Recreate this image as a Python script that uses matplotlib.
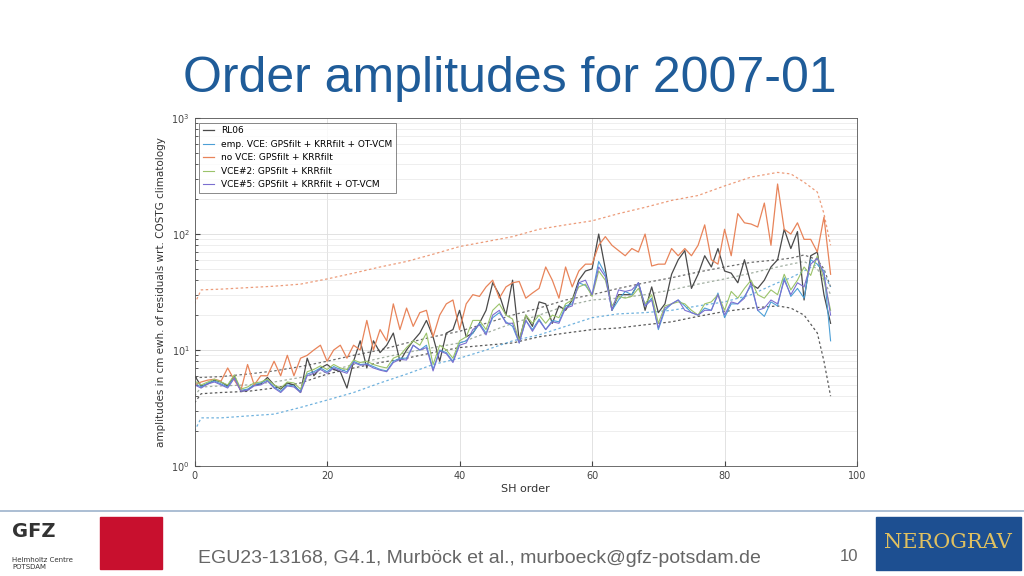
import numpy as np
import matplotlib
matplotlib.use('Agg')
import matplotlib.pyplot as plt
from matplotlib.patches import Rectangle

# SH order 0..96
orders = list(range(97))

rl06 = [6.0, 4.9, 5.1, 5.5, 5.3, 4.9, 6.0, 4.4, 4.5, 5.0, 5.1, 5.8, 5.0, 4.6, 5.2, 5.0, 4.3, 8.5, 6.0, 7.0, 7.5, 6.8, 6.5, 4.7, 8.0,
        12.0, 7.0, 12.0, 9.5, 11.0, 14.0, 8.0, 10.0, 12.0, 14.0, 18.0, 13.0, 8.0, 14.0, 15.0, 22.0, 13.0, 14.0, 17.0, 22.0, 38.0,
        30.0, 20.0, 40.0, 12.0, 20.0, 16.0, 26.0, 25.0, 17.0, 24.0, 22.0, 27.0, 40.0, 48.0, 50.0, 100.0, 50.0, 22.0, 30.0, 30.0,
        30.0, 38.0, 22.0, 35.0, 21.0, 25.0, 45.0, 60.0, 72.0, 34.0, 45.0, 65.0, 52.0, 75.0, 48.0, 46.0, 38.0, 60.0, 37.0, 34.0,
        40.0, 52.0, 60.0, 110.0, 75.0, 105.0, 27.0, 65.0, 70.0, 30.0, 17.0]
no_vce = [5.0, 5.3, 5.5, 5.6, 5.4, 7.0, 5.5, 4.5, 7.5, 5.0, 6.0, 6.0, 8.0, 6.0, 9.0, 6.0, 8.5, 9.0, 10.0, 11.0, 8.0, 10.0, 11.0,
          8.5, 11.0, 10.0, 18.0, 10.0, 15.0, 12.0, 25.0, 15.0, 23.0, 16.0, 21.0, 22.0, 13.0, 20.0, 25.0, 27.0, 15.0, 25.0, 30.0,
          29.0, 35.0, 40.0, 28.0, 35.0, 38.0, 39.0, 28.0, 31.0, 34.0, 52.0, 40.0, 28.0, 52.0, 35.0, 48.0, 55.0, 55.0, 80.0, 95.0,
          80.0, 72.0, 65.0, 75.0, 70.0, 100.0, 53.0, 55.0, 55.0, 75.0, 65.0, 75.0, 65.0, 80.0, 120.0, 60.0, 55.0, 110.0, 65.0,
          150.0, 125.0, 122.0, 115.0, 185.0, 80.0, 270.0, 110.0, 100.0, 125.0, 90.0, 90.0, 70.0, 140.0, 45.0]
emp_vce = [5.2, 4.8, 5.2, 5.4, 5.1, 4.8, 5.8, 4.5, 4.6, 5.0, 5.2, 5.5, 4.8, 4.4, 5.0, 4.9, 4.4, 6.2, 6.5, 7.0, 6.5, 7.2, 6.8, 6.5,
           8.0, 7.5, 7.6, 7.2, 6.8, 6.6, 8.0, 8.5, 8.5, 11.0, 10.0, 11.0, 6.8, 10.0, 9.5, 8.0, 11.5, 12.0, 14.0, 17.0, 14.0, 19.0,
           21.0, 17.5, 16.0, 11.5, 18.0, 15.0, 18.5, 15.0, 18.0, 17.5, 24.0, 25.0, 38.0, 36.0, 30.0, 58.0, 45.0, 22.0, 27.0, 32.0,
           30.0, 38.0, 24.0, 28.0, 15.0, 22.0, 25.0, 27.0, 24.0, 21.0, 20.0, 23.0, 22.0, 31.0, 19.0, 25.0, 25.0, 29.0, 36.0, 22.0,
           19.5, 26.0, 24.0, 42.0, 29.0, 34.0, 28.0, 60.0, 55.0, 48.0, 12.0]
vce2 = [5.4, 5.0, 5.3, 5.6, 5.3, 5.0, 6.1, 4.6, 4.8, 5.2, 5.3, 5.6, 5.0, 4.7, 5.3, 5.2, 4.6, 6.5, 6.8, 7.3, 6.8, 7.5, 7.0, 6.8,
        8.2, 7.8, 8.0, 7.5, 7.2, 7.0, 8.5, 9.0, 10.5, 12.0, 11.0, 14.0, 7.5, 11.0, 10.0, 8.5, 12.0, 13.0, 18.0, 18.0, 15.0, 22.0,
        25.0, 20.0, 18.5, 12.0, 20.0, 17.0, 20.0, 17.0, 20.0, 19.0, 25.0, 27.0, 35.0, 37.0, 29.0, 48.0, 40.0, 24.0, 29.0, 28.0,
        29.0, 34.0, 25.0, 30.0, 17.0, 24.0, 25.0, 26.0, 25.0, 22.0, 20.0, 25.0, 26.0, 30.0, 22.0, 32.0, 28.0, 34.0, 40.0, 30.0,
        28.0, 33.0, 30.0, 45.0, 33.0, 40.0, 52.0, 44.0, 65.0, 40.0, 22.0]
vce5 = [5.0, 4.7, 5.1, 5.3, 5.0, 4.7, 5.7, 4.4, 4.5, 4.9, 5.0, 5.4, 4.7, 4.3, 4.9, 4.8, 4.3, 6.0, 6.3, 6.8, 6.3, 7.0, 6.6, 6.3,
        7.8, 7.4, 7.5, 7.0, 6.7, 6.5, 7.8, 8.3, 8.2, 11.0, 10.0, 10.5, 6.6, 9.8, 9.3, 7.8, 11.0, 11.5, 15.0, 16.5, 13.5, 20.0,
        22.0, 17.0, 17.0, 11.5, 18.0, 14.5, 18.0, 15.0, 17.5, 17.0, 23.0, 24.0, 38.0, 40.0, 30.0, 52.0, 43.0, 22.0, 33.0, 32.0,
        33.0, 38.0, 24.0, 27.0, 15.5, 23.0, 25.0, 27.0, 22.0, 21.0, 20.0, 22.0, 22.0, 30.0, 20.0, 26.0, 25.0, 28.0, 38.0, 22.0,
        23.0, 27.0, 25.0, 40.0, 30.0, 38.0, 35.0, 55.0, 62.0, 45.0, 20.0]

# dashed curves, read at sparse orders
d_orders = [0, 1, 4, 8, 12, 16, 20, 24, 28, 32, 36, 40, 44, 48, 52, 56, 60, 64, 68, 72, 76, 80, 84, 88, 90, 92, 94, 95, 96]
d_novce = [25, 33, 33.5, 34.5, 35.5, 37, 41, 46, 52, 58, 67, 78, 86, 95, 110, 120, 130, 150, 170, 195, 215, 260, 310, 340, 330, 280, 230, 150, 80]
d_rl06_hi = [5.8, 5.8, 5.9, 6.2, 6.6, 7.2, 8.0, 9.0, 10.0, 11.5, 13.0, 14.5, 17.0, 20.0, 23.0, 27.0, 30.0, 34.0, 38.0, 42.0, 47.0, 52.0, 57.0, 60.0, 62.0, 66.0, 60.0, 50.0, 35.0]
d_rl06_lo = [3.5, 4.2, 4.3, 4.4, 4.7, 5.2, 6.2, 7.0, 7.8, 8.5, 9.5, 10.5, 11.0, 11.5, 13.0, 14.0, 15.0, 15.5, 16.5, 17.5, 19.5, 21.5, 23.0, 24.0, 23.0, 20.0, 14.0, 8.0, 4.0]
d_emp = [2.0, 2.6, 2.6, 2.7, 2.8, 3.2, 3.7, 4.3, 5.2, 6.2, 7.5, 8.5, 10.0, 12.0, 13.5, 16.0, 19.0, 20.5, 21.0, 22.0, 24.0, 26.0, 30.0, 38.0, 42.0, 48.0, 55.0, 45.0, 35.0]
d_vce2 = [4.0, 4.8, 4.9, 5.0, 5.3, 5.8, 6.5, 7.5, 8.5, 9.5, 10.5, 11.5, 14.0, 17.0, 20.0, 24.0, 27.0, 28.0, 30.0, 33.0, 37.0, 41.0, 46.0, 52.0, 55.0, 58.0, 50.0, 40.0, 30.0]

xticks = [0, 20, 40, 60, 80, 100]

C_RL06 = '#4a4a4a'
C_EMP = '#4c9fd6'
C_NOVCE = '#e8845a'
C_VCE2 = '#9bc36a'
C_VCE5 = '#7b6fd0'

fig = plt.figure(figsize=(10.24, 5.76), dpi=100)
fig.patch.set_facecolor('white')

fig.text(0.498, 0.862, 'Order amplitudes for 2007-01', ha='center', va='center',
         fontsize=36, color='#1f5c99', family='Liberation Sans')

ax = fig.add_axes([0.190, 0.191, 0.647, 0.604])
ax.set_yscale('log')
ax.plot(d_orders, d_novce, ls=(0, (2, 2)), color=C_NOVCE, lw=0.9, alpha=0.8)
ax.plot(d_orders, d_rl06_hi, ls=(0, (2, 2)), color=C_RL06, lw=0.9, alpha=0.8)
ax.plot(d_orders, d_rl06_lo, ls=(0, (2, 2)), color=C_RL06, lw=0.9, alpha=0.9)
ax.plot(d_orders, d_emp, ls=(0, (2, 2)), color=C_EMP, lw=0.9, alpha=0.8)
ax.plot(d_orders, d_vce2, ls=(0, (2, 2)), color='#8a9a8a', lw=0.9, alpha=0.8)

ax.plot(orders, rl06, color=C_RL06, lw=0.9, label='RL06')
ax.plot(orders, emp_vce, color=C_EMP, lw=0.8, label='emp. VCE: GPSfilt + KRRfilt + OT-VCM')
ax.plot(orders, no_vce, color=C_NOVCE, lw=0.9, label='no VCE: GPSfilt + KRRfilt')
ax.plot(orders, vce2, color=C_VCE2, lw=0.8, label='VCE#2: GPSfilt + KRRfilt')
ax.plot(orders, vce5, color=C_VCE5, lw=0.8, label='VCE#5: GPSfilt + KRRfilt + OT-VCM')

ax.set_xlim(0, 100)
ax.set_ylim(1, 1000)
ax.set_xticks(xticks)
ax.grid(True, which='major', color='#dddddd', lw=0.6)
ax.grid(True, which='minor', axis='y', color='#e8e8e8', lw=0.5)
ax.tick_params(labelsize=7, colors='#444444', direction='in', which='both')
for s in ax.spines.values():
    s.set_color('#555555'); s.set_linewidth(0.6)
ax.set_xlabel('SH order', fontsize=8, color='#333333', labelpad=2)
ax.set_ylabel('amplitudes in cm ewh. of residuals wrt. COSTG climatology', fontsize=7.5, color='#333333')
leg = ax.legend(loc='upper left', fontsize=6.5, frameon=True, fancybox=False, handlelength=1.2,
                borderpad=0.4, labelspacing=0.5, edgecolor='#555555')
leg.get_frame().set_linewidth(0.6)

# footer
fig.add_artist(plt.Line2D([0, 1], [0.113, 0.113], color='#9db3cc', lw=1.2))
fig.text(0.193, 0.031, 'EGU23-13168, G4.1, Murböck et al., murboeck@gfz-potsdam.de', fontsize=14,
         color='#666666', va='center', family='Liberation Sans')
fig.text(0.82, 0.033, '10', fontsize=12, color='#666666', va='center', family='Liberation Sans')
fig.text(0.012, 0.078, 'GFZ', fontsize=14, fontweight='bold', color='#333333', va='center')
fig.text(0.012, 0.022, 'Helmholtz Centre\nPOTSDAM', fontsize=5, color='#333333', va='center')
fig.add_artist(Rectangle((0.098, 0.012), 0.06, 0.09, transform=fig.transFigure, color='#c8102e'))
fig.add_artist(Rectangle((0.855, 0.01), 0.142, 0.092, transform=fig.transFigure, color='#1d4f91'))
fig.text(0.926, 0.058, 'NEROGRAV', fontsize=15, color='#e0c060', ha='center', va='center', family='DejaVu Serif')

fig.savefig('out.png', dpi=100)
